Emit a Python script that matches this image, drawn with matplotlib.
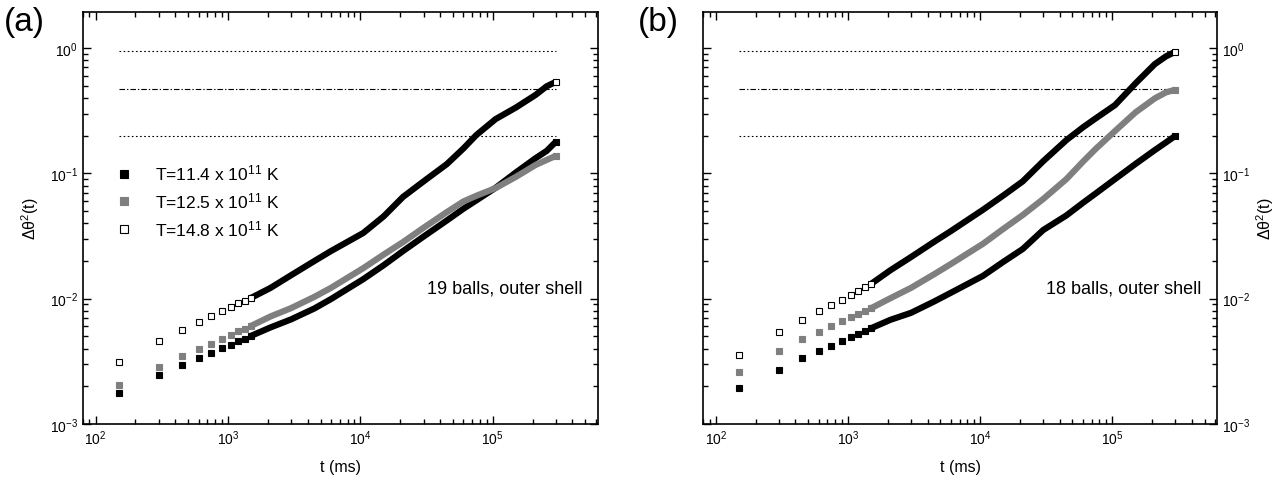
import numpy as np
import matplotlib
matplotlib.use('Agg')
import matplotlib.pyplot as plt

plt.rcParams['font.family'] = ['Liberation Sans', 'DejaVu Sans']
plt.rcParams['mathtext.fontset'] = 'custom'
plt.rcParams['mathtext.rm'] = 'Liberation Sans'
plt.rcParams['mathtext.it'] = 'Liberation Sans:italic'
plt.rcParams['mathtext.default'] = 'regular'

# sampling times (ms)
t = [150, 300, 450, 600, 750, 900, 1050, 1200, 1350, 1500,
     2100, 3000, 4500, 6000, 10500, 15000, 21000, 30000, 45000,
     60000, 75000, 105000, 150000, 210000, 255000, 300000]

# (a) 19 balls, outer shell
a_black = [1.77e-3, 2.46e-3, 2.94e-3, 3.36e-3, 3.70e-3, 4.01e-3, 4.28e-3, 4.56e-3, 4.79e-3, 5.06e-3,
           5.9e-3, 6.84e-3, 8.36e-3, 9.93e-3, 1.43e-2, 1.85e-2, 2.40e-2, 3.13e-2, 4.21e-2,
           5.22e-2, 6.08e-2, 7.67e-2, 0.102, 0.132, 0.151, 0.179]
a_gray = [2.04e-3, 2.85e-3, 3.48e-3, 3.96e-3, 4.37e-3, 4.73e-3, 5.12e-3, 5.49e-3, 5.75e-3, 6.08e-3,
          7.22e-3, 8.41e-3, 1.035e-2, 1.22e-2, 1.75e-2, 2.25e-2, 2.83e-2, 3.68e-2, 4.91e-2,
          5.97e-2, 6.62e-2, 7.63e-2, 9.4e-2, 0.1165, 0.128, 0.138]
a_open = [3.10e-3, 4.56e-3, 5.65e-3, 6.50e-3, 7.26e-3, 7.96e-3, 8.57e-3, 9.18e-3, 9.63e-3, 1.017e-2,
          1.22e-2, 1.54e-2, 2.0e-2, 2.40e-2, 3.34e-2, 4.54e-2, 6.49e-2, 8.63e-2, 0.1186,
          0.158, 0.202, 0.271, 0.336, 0.422, 0.495, 0.538]

# (b) 18 balls, outer shell
b_black = [1.92e-3, 2.72e-3, 3.34e-3, 3.79e-3, 4.21e-3, 4.61e-3, 4.91e-3, 5.21e-3, 5.51e-3, 5.82e-3,
           6.79e-3, 7.71e-3, 9.51e-3, 1.114e-2, 1.52e-2, 1.97e-2, 2.49e-2, 3.53e-2, 4.62e-2,
           5.82e-2, 6.92e-2, 9.01e-2, 0.119, 0.1535, 0.1767, 0.1995]
b_gray = [2.60e-3, 3.82e-3, 4.73e-3, 5.44e-3, 6.04e-3, 6.62e-3, 7.13e-3, 7.57e-3, 8.0e-3, 8.41e-3,
          1.01e-2, 1.22e-2, 1.57e-2, 1.89e-2, 2.74e-2, 3.61e-2, 4.65e-2, 6.24e-2, 9.01e-2,
          0.124, 0.157, 0.218, 0.307, 0.397, 0.443, 0.465]
b_open = [3.53e-3, 5.38e-3, 6.75e-3, 7.92e-3, 8.84e-3, 9.75e-3, 1.07e-2, 1.156e-2, 1.23e-2, 1.315e-2,
          1.69e-2, 2.15e-2, 2.85e-2, 3.46e-2, 5.12e-2, 6.67e-2, 8.63e-2, 0.125, 0.1845,
          0.233, 0.275, 0.351, 0.523, 0.745, 0.859, 0.935]

labels = [r'T=11.4 x 10$^{11}$ K', r'T=12.5 x 10$^{11}$ K', r'T=14.8 x 10$^{11}$ K']
ref_levels = [0.95, 0.47, 0.2]
ref_styles = [':', '-.', ':']
ref_span = [150, 300000]

GRAY = '#7f7f7f'
t = np.array(t)
dense = t >= 1500
# markers only where points are still apart, plus the last one
show = (t <= 1500) | (t == t[-1])


def draw(ax, black, gray, opn, note):
    for lev, ls in zip(ref_levels, ref_styles):
        ax.plot(ref_span, [lev, lev], ls=ls, color='k', lw=0.8,
                dashes=(1.5, 2.2) if ls == ':' else (5, 1.8, 1.2, 1.8))
    handles = []
    for y, mfc, mec in [(black, 'k', 'k'), (gray, GRAY, GRAY), (opn, 'w', 'k')]:
        y = np.array(y)
        ax.plot(t[dense], y[dense], '-', color=mec, lw=4.5, solid_capstyle='butt',
                solid_joinstyle='round', zorder=2)
        h, = ax.plot(t[show], y[show], 's', ms=3.8, mfc=mfc, mec=mec, mew=0.8, ls='none', zorder=3)
        handles.append(h)
    ax.set_xscale('log')
    ax.set_yscale('log')
    ax.set_xlim(80, 6.2e5)
    ax.set_ylim(1e-3, 1.94)
    ax.tick_params(which='both', direction='in', top=True, right=True, width=1, labelsize=10)
    ax.tick_params(which='major', length=6)
    ax.tick_params(which='minor', length=3.5)
    for s in ax.spines.values():
        s.set_linewidth(1.2)
    ax.set_xlabel('t (ms)', fontsize=11.5, labelpad=8)
    ax.text(0.97, 0.33, note, transform=ax.transAxes, ha='right', va='center', fontsize=13)
    return handles


fig = plt.figure(figsize=(12.83, 4.81), dpi=100)
ax1 = fig.add_axes([82.7 / 1283, 1 - 425 / 481, 515 / 1283, 412 / 481])
ax2 = fig.add_axes([703 / 1283, 1 - 425 / 481, 514 / 1283, 412 / 481])

hs = draw(ax1, a_black, a_gray, a_open, '19 balls, outer shell')
draw(ax2, b_black, b_gray, b_open, '18 balls, outer shell')

ax1.set_ylabel(r'$\Delta\theta^2$(t)', fontsize=11.5, labelpad=6)
ax2.tick_params(labelleft=False, labelright=True)
ax2.yaxis.set_label_position('right')
ax2.set_ylabel(r'$\Delta\theta^2$(t)', fontsize=11.5, labelpad=3)

ax1.legend(hs, labels, loc='upper left', bbox_to_anchor=(0.05, 0.655), frameon=False,
           fontsize=12.5, handlelength=0.8, handletextpad=1.4, labelspacing=0.45,
           borderpad=0, markerscale=1.4)

fig.text(0.003, 0.985, '(a)', fontsize=24, va='top', ha='left')
fig.text(0.497, 0.985, '(b)', fontsize=24, va='top', ha='left')

fig.savefig('out.png', dpi=100)
